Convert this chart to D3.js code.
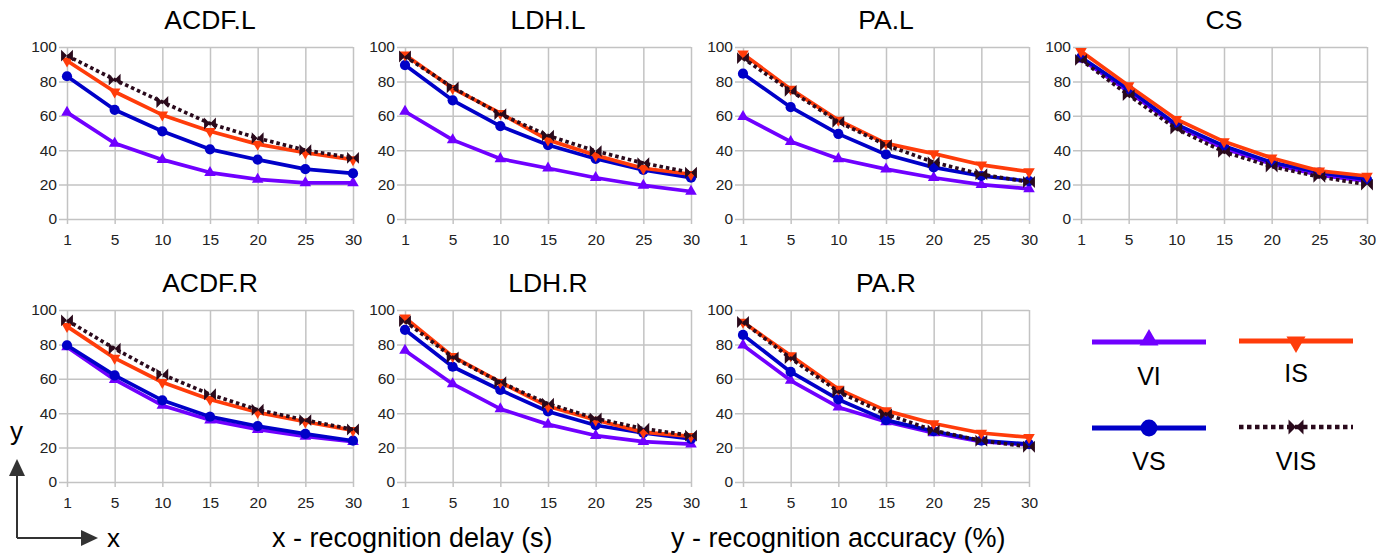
<!DOCTYPE html>
<html>
<head>
<meta charset="utf-8">
<script src="https://cdn.jsdelivr.net/npm/d3@7"></script>
<style>
  html, body { margin: 0; padding: 0; background: #fff; }
  svg { display: block; font-family: "Liberation Sans", Arial, sans-serif; }
</style>
</head>
<body>
<svg id="chart" width="1388" height="556"></svg>
<script>
// Recognition delay categories (seconds) and y ticks
const delays = ["1", "5", "10", "15", "20", "25", "30"];
const yTicks = [0, 20, 40, 60, 80, 100];

// Series order in every panel: VI, VS, IS, VIS
const seriesNames = ["VI", "VS", "IS", "VIS"];
const seriesColors = ["#7000ff", "#0000c8", "#ff3c0a", "#2a0a1c"];

// Recognition accuracy (%) per panel, rows follow seriesNames
const acdfL = [
  [62, 44, 34.5, 27, 23, 21, 21],
  [83, 63.5, 51, 40.5, 34.5, 29, 26.5],
  [92, 74, 60.5, 51, 43.5, 38.5, 34.5],
  [95, 81, 68, 55.5, 47, 40, 35.5]
];
const ldhL = [
  [62.5, 46, 35, 29.5, 24, 19.5, 16],
  [89.5, 69, 54, 43, 35, 28.5, 24],
  [95.5, 76, 61.5, 46, 37, 29.5, 26],
  [94.5, 76.5, 61, 48.5, 39.5, 32.5, 27]
];
const paL = [
  [59.5, 45, 35, 29, 24, 20, 17.5],
  [84.5, 65, 49.5, 37.5, 30, 25, 22],
  [96, 75.5, 57.5, 44, 38, 31.5, 27.5],
  [93.5, 74.5, 56.5, 43, 33, 26, 21.5]
];
const cs = [
  [93, 74, 54, 41, 32, 25.5, 22],
  [94, 75.5, 55, 42.5, 33, 27, 23],
  [97.5, 77.5, 58, 45, 35.5, 28, 25],
  [92.5, 72, 52.5, 39, 30.5, 24.5, 20]
];
const acdfR = [
  [78.5, 59.5, 44.5, 36, 30.5, 26.5, 23.5],
  [79.5, 62, 47.5, 38, 32.5, 28, 24],
  [90.5, 72, 58, 48, 40.5, 35, 30],
  [94, 77.5, 62.5, 51, 42, 36, 30.5]
];
const ldhR = [
  [76.5, 57, 42.5, 33.5, 27, 23.5, 22],
  [88.5, 67, 53.5, 41, 33, 28.5, 25],
  [95.5, 73, 58, 44, 36, 29, 26.5],
  [93.5, 72.5, 58, 45.5, 37, 31, 27]
];
const paR = [
  [79.5, 59, 43.5, 35, 28.5, 23.5, 21.5],
  [85.5, 64, 48, 36, 29.5, 24, 22],
  [93, 73.5, 54, 41.5, 34, 28.5, 26],
  [93, 72, 52.5, 39.5, 30, 24, 20.5]
];

const panelTitles = ["ACDF.L", "LDH.L", "PA.L", "CS", "ACDF.R", "LDH.R", "PA.R"];
const panelData = [acdfL, ldhL, paL, cs, acdfR, ldhR, paR];

const svg = d3.select("#chart");

const plotW = 286, plotH = 172, stepX = 338;
const rowTop = [47, 310];
const gridColor = "#c3c3c3";

// Marker shapes
const bowtie = {
  draw(ctx, size) {
    const s = Math.sqrt(size) / 2;
    ctx.moveTo(-s, -s); ctx.lineTo(0, 0); ctx.lineTo(-s, s); ctx.closePath();
    ctx.moveTo(s, -s); ctx.lineTo(0, 0); ctx.lineTo(s, s); ctx.closePath();
  }
};
function markerPath(i, scale) {
  if (i === 0) return d3.symbol(d3.symbolTriangle, 58 * scale)();
  if (i === 1) return d3.symbol(d3.symbolCircle, 82 * scale)();
  if (i === 2) return d3.symbol(d3.symbolTriangle, 58 * scale)();
  return d3.symbol(bowtie, 140 * scale)();
}
function markerRotation(i) { return i === 2 ? 180 : 0; }

const x = d3.scalePoint().domain(delays).range([0, plotW]);
const y = d3.scaleLinear().domain([0, 100]).range([plotH, 0]);

panelData.forEach((rows, p) => {
  const col = p < 4 ? p : p - 4;
  const row = p < 4 ? 0 : 1;
  const left = 67 + col * stepX;
  const top = rowTop[row];
  const g = svg.append("g").attr("transform", `translate(${left},${top})`);

  // Title
  g.append("text")
    .attr("x", plotW / 2)
    .attr("y", -18)
    .attr("text-anchor", "middle")
    .attr("font-size", 26.5)
    .attr("fill", "#000")
    .text(panelTitles[p]);

  // Y gridlines and labels
  const yAxis = g.append("g")
    .attr("transform", "translate(-8,0)")
    .call(d3.axisLeft(y).tickValues(yTicks).tickSize(-(plotW + 8)).tickPadding(2));
  yAxis.select(".domain").remove();
  yAxis.selectAll(".tick line").attr("stroke", gridColor).attr("stroke-width", 1.5);
  yAxis.selectAll(".tick text").attr("font-size", 15.5).attr("fill", "#222")
    .attr("font-family", '"Liberation Sans", Arial, sans-serif');

  // X gridlines and labels
  const xAxis = g.append("g")
    .attr("transform", `translate(0,${plotH + 5})`)
    .call(d3.axisBottom(x).tickSize(-(plotH + 5)).tickPadding(10));
  xAxis.select(".domain").remove();
  xAxis.selectAll(".tick line").attr("stroke", gridColor).attr("stroke-width", 1.5);
  xAxis.selectAll(".tick text").attr("font-size", 15.5).attr("fill", "#222")
    .attr("font-family", '"Liberation Sans", Arial, sans-serif');

  // Series lines and markers
  const line = d3.line().x((d, i) => x(delays[i])).y(d => y(d));
  rows.forEach((vals, s) => {
    g.append("path")
      .datum(vals)
      .attr("d", line)
      .attr("fill", "none")
      .attr("stroke", seriesColors[s])
      .attr("stroke-width", 3.7)
      .attr("stroke-linejoin", "round")
      .attr("stroke-dasharray", s === 3 ? "3.5,3" : null);
    g.selectAll(null)
      .data(vals)
      .enter()
      .append("path")
      .attr("d", markerPath(s, 1))
      .attr("transform", (d, i) => `translate(${x(delays[i])},${y(d)}) rotate(${markerRotation(s)})`)
      .attr("fill", seriesColors[s]);
  });
});

// Legend
const legendItems = [
  { i: 0, cx: 1149, ly: 342, ty: 385 },
  { i: 2, cx: 1296, ly: 341, ty: 382 },
  { i: 1, cx: 1149, ly: 428, ty: 470 },
  { i: 3, cx: 1296, ly: 427, ty: 470 }
];
const legend = svg.append("g");
legendItems.forEach(it => {
  const s = it.i;
  legend.append("line")
    .attr("x1", it.cx - 57).attr("x2", it.cx + 57)
    .attr("y1", it.ly).attr("y2", it.ly)
    .attr("stroke", seriesColors[s])
    .attr("stroke-width", s === 3 ? 4.5 : 5)
    .attr("stroke-dasharray", s === 3 ? "4.5,3.5" : null);
  legend.append("path")
    .attr("d", markerPath(s, s === 3 ? 1.6 : 2.7))
    .attr("transform", `translate(${it.cx},${it.ly + (s === 0 ? -2 : s === 2 ? 1 : 0)}) rotate(${markerRotation(s)})`)
    .attr("fill", seriesColors[s]);
  legend.append("text")
    .attr("x", it.cx).attr("y", it.ty)
    .attr("text-anchor", "middle")
    .attr("font-size", 25)
    .attr("fill", "#000")
    .text(seriesNames[s]);
});

// Axis key arrows
const key = svg.append("g").attr("fill", "#333").attr("stroke", "#333");
key.append("path").attr("d", "M17,538 V474 M17,538 H83").attr("fill", "none").attr("stroke-width", 2);
key.append("path").attr("d", "M9,476 L25,476 L17,459 Z").attr("stroke", "none");
key.append("path").attr("d", "M81,530 L81,546 L98,538 Z").attr("stroke", "none");
svg.append("text").attr("x", 10).attr("y", 440).attr("font-size", 26).text("y");
svg.append("text").attr("x", 107).attr("y", 547).attr("font-size", 26).text("x");

// Axis descriptions
svg.append("text").attr("x", 272).attr("y", 547).attr("font-size", 27).text("x - recognition delay (s)");
svg.append("text").attr("x", 671).attr("y", 547).attr("font-size", 27).text("y - recognition accuracy (%)");
</script>
</body>
</html>
